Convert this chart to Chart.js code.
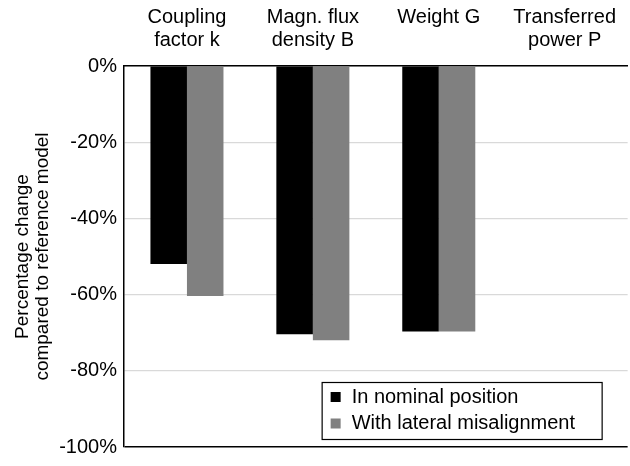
<!DOCTYPE html>
<html>
<head>
<meta charset="utf-8">
<script src="https://cdn.jsdelivr.net/npm/chart.js@4.4.1/dist/chart.umd.min.js"></script>
<style>
  html, body { margin: 0; padding: 0; background: #fff; }
  #wrap { width: 630px; height: 466px; position: relative; }
</style>
</head>
<body>
<div id="wrap"><canvas id="c" width="630" height="466"></canvas></div>
<script>
const categories = [
  ['Coupling', 'factor k'],
  ['Magn. flux', 'density B'],
  ['Weight G', ''],
  ['Transferred', 'power P']
];
const seriesNames = ['In nominal position', 'With lateral misalignment'];
const nominal = [-52, -70.4, -69.7, 0];
const lateral = [-60.4, -72, -69.7, 0];
const yTicks = [0, -20, -40, -60, -80, -100];
const yTitle = ['Percentage change', 'compared to reference model'];
const colors = ['#000000', '#808080'];

const FONT = "'Liberation Sans', Arial, sans-serif";

const legendBox = {
  id: 'legendBox',
  afterDraw(chart) {
    const ctx = chart.ctx;
    const a = chart.chartArea;
    const x0 = a.right - 306, y0 = a.bottom - 65, w = 280, h = 57;
    ctx.save();
    ctx.fillStyle = '#fff';
    ctx.fillRect(x0, y0, w, h);
    ctx.strokeStyle = '#000';
    ctx.lineWidth = 1.2;
    ctx.strokeRect(x0 + 0.5, y0 + 0.5, w, h);
    ctx.font = '20px ' + FONT;
    ctx.textBaseline = 'middle';
    chart.data.datasets.forEach((ds, i) => {
      const cy = y0 + 15 + i * 26.5;
      ctx.fillStyle = ds.backgroundColor;
      ctx.fillRect(x0 + 9, cy - 5, 10, 10);
      ctx.fillStyle = '#000';
      ctx.fillText(ds.label, x0 + 30, cy);
    });
    ctx.restore();
  }
};

new Chart(document.getElementById('c'), {
  type: 'bar',
  data: {
    labels: categories,
    datasets: [
      { label: seriesNames[0], data: nominal, backgroundColor: colors[0], borderWidth: 0 },
      { label: seriesNames[1], data: lateral, backgroundColor: colors[1], borderWidth: 0 }
    ]
  },
  options: {
    responsive: false,
    animation: false,
    layout: { padding: { top: 0, right: 0, bottom: 10, left: 0 } },
    datasets: { bar: { categoryPercentage: 0.58, barPercentage: 1.0 } },
    plugins: { legend: { display: false }, tooltip: { enabled: false } },
    scales: {
      x: {
        position: 'top',
        afterFit(s) { s.height = 66; },
        grid: { color: 'rgba(0,0,0,0)', drawTicks: false },
        border: { display: true, color: '#000', width: 1.5 },
        ticks: {
          color: '#000',
          font: { family: FONT, size: 20, lineHeight: 1.15 },
          padding: 14,
          maxRotation: 0,
          autoSkip: false
        }
      },
      y: {
        min: -100,
        max: 0,
        afterFit(s) { s.width = 124; },
        afterBuildTicks(s) { s.ticks = yTicks.map(v => ({ value: v })); },
        grid: {
          drawTicks: false,
          color: ctx => (ctx.tick && ctx.tick.value === -100) ? '#000' : '#d9d9d9',
          lineWidth: ctx => (ctx.tick && ctx.tick.value === -100) ? 1.5 : 1.2
        },
        border: { display: true, color: '#000', width: 1.5 },
        ticks: {
          color: '#000',
          font: { family: FONT, size: 20 },
          padding: 7,
          callback: v => v + '%'
        },
        title: {
          display: true,
          text: yTitle,
          color: '#000',
          font: { family: FONT, size: 19, lineHeight: 1.05 },
          padding: { top: 13, bottom: 0 }
        }
      }
    }
  },
  plugins: [legendBox]
});
</script>
</body>
</html>
